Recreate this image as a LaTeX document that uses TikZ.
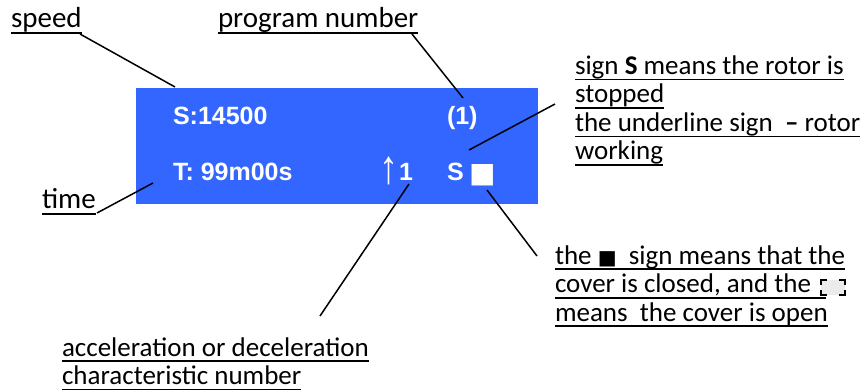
\documentclass[tikz,border=0pt]{standalone}
\usepackage{fontspec}
\usepackage{graphicx}
\setmainfont{Carlito}
\newfontfamily\lcdfont{Liberation Sans}
\newfontfamily\symfont{DejaVu Sans}
\usetikzlibrary{positioning,calc}
\definecolor{lcdblue}{RGB}{51,102,255}
% underline at a fixed depth below the baseline
\newcommand{\ulin}[1]{\setbox0=\hbox{#1}\rlap{\rule[-6pt]{\wd0}{1.8pt}}\box0}

\begin{document}
\begin{tikzpicture}[
    x=1pt, y=-1pt,
    every node/.style={inner sep=0pt, outer sep=0pt},
    lab/.style={
        anchor=base west,
        align=left,
        font=\fontsize{29}{28.5}\selectfont
    },
    note/.style={
        lab,
        font=\fontsize{27}{28.5}\selectfont
    },
    lcdtext/.style={
        anchor=base west,
        text=white,
        font=\lcdfont\bfseries\fontsize{25}{30}\selectfont
    },
    lcd/.style={
        rectangle,
        fill=lcdblue,
        minimum width=402pt,
        minimum height=116pt
    },
    leader/.style={
        line width=1.5pt,
        draw=black
    },
    corner/.style={
        line width=2pt,
        draw=black
    }
]
\useasboundingbox (0,0) rectangle (862,390);

% display
\node[lcd] (lcd) at (337,146) {};
\node[lcdtext] (speedval) at (173,125) {S:14500};
\node[lcdtext] (progval) at (447,125) {(1)};
\node[lcdtext] (timeval) at (173,181) {T: 99m00s};
\node[lcdtext, anchor=south west, font=\lcdfont\fontsize{25}{30}\selectfont] (accarrow) at (379,185) {\resizebox*{19pt}{28pt}{↑}};
\node[lcdtext] (accval) at (399,181) {1};
\node[lcdtext] (rotorval) at (447,181) {S};
\node[lcdtext, font=\symfont\fontsize{28}{30}\selectfont] (coverval) at (469,183) {■};

% labels (base = last line)
\node[lab] (speed) at (11,28) {\ulin{speed}};
\node[lab] (program) at (218,28) {\ulin{program number}};
\node[lab] (time) at (42,209) {\ulin{time}};
\node[note] (rotor) at (575,160) {\ulin{sign \textbf{S} means the rotor is}\\
    \ulin{stopped}\\
    \ulin{the underline sign\ \ \textbf{--} rotor}\\
    \ulin{working}};
\node[note] (cover) at (555,321) {\ulin{the {\symfont\fontsize{20}{20}\selectfont ■}\ \ sign means that the}\\
    \ulin{cover is closed, and the\hspace{15pt}}\\
    \ulin{means\ \ the cover is open}};
\node[note] (accel) at (62,384.5) {\ulin{acceleration or deceleration}\\
    \ulin{characteristic number}};

% open cover sign
\node[minimum width=24pt, minimum height=15pt, fill=black!8] (opensign) at (833,287) {};
\foreach \a/\dx/\dy in {north west/1/1, north east/-1/1, south west/1/-1, south east/-1/-1}
    \draw[corner] ($(opensign.\a)+(\dx*6,0)$) -- (opensign.\a) -- ($(opensign.\a)+(0,\dy*5)$);

% leader lines
\coordinate (speedend) at (80,34);
\coordinate (speedpt) at (175,87);
\coordinate (progend) at (412,34);
\coordinate (progpt) at (463,98);
\coordinate (timeend) at (97,213);
\coordinate (timept) at (153,183);
\coordinate (accelend) at (320,316);
\coordinate (accelpt) at (409,184);
\coordinate (rotorend) at (555,104);
\coordinate (rotorpt) at (469,150);
\coordinate (coverend) at (537,256);
\coordinate (coverpt) at (487,190);
\draw[leader] (speedend) -- (speedpt);
\draw[leader] (progend) -- (progpt);
\draw[leader] (timeend) -- (timept);
\draw[leader] (accelend) -- (accelpt);
\draw[leader] (rotorend) -- (rotorpt);
\draw[leader] (coverend) -- (coverpt);
\end{tikzpicture}
\end{document}
